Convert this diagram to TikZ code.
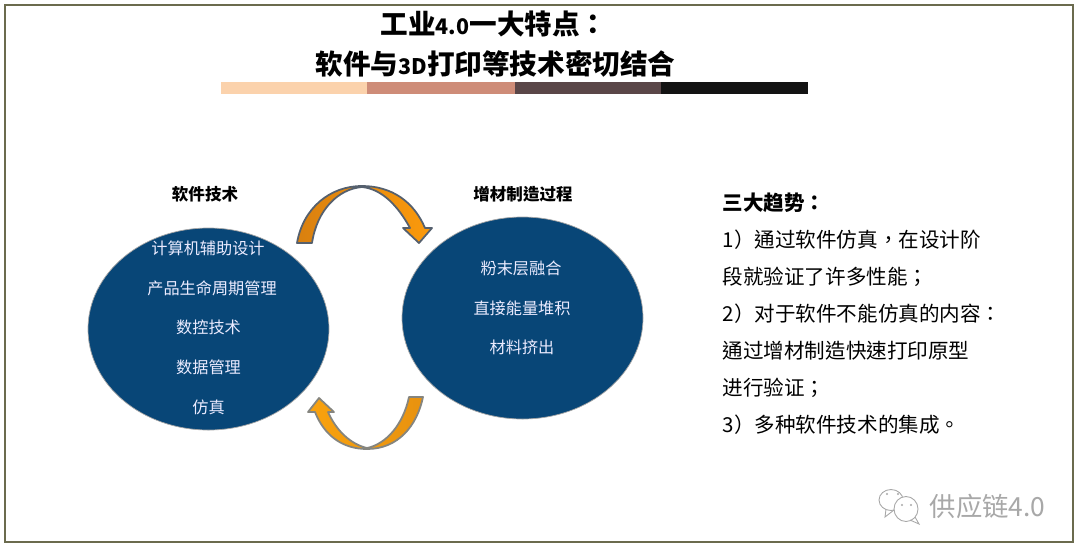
\documentclass[tikz,border=0pt]{standalone}
\usepackage{fontspec}
\setmainfont{Noto Sans CJK TC}
\usepackage{tikz}
\usetikzlibrary{shapes.geometric}

\definecolor{framecol}{HTML}{6B6B4E}
\definecolor{bluecol}{HTML}{084677}
\definecolor{bar1}{HTML}{FBD2AC}
\definecolor{bar2}{HTML}{CE8C78}
\definecolor{bar3}{HTML}{5A4648}
\definecolor{bar4}{HTML}{131313}
\definecolor{orangeL}{HTML}{D9800F}
\definecolor{orangeR}{HTML}{FB9A0C}
\definecolor{orangeA}{HTML}{F9A20E}
\definecolor{orangeB}{HTML}{E8920F}
\definecolor{edgeT}{HTML}{55606E}
\definecolor{edgeB}{HTML}{85857F}
\definecolor{markcol}{HTML}{A8A8A8}

\tikzset{
	title/.style={font=\fontsize{7.85}{10}\selectfont\bfseries, inner sep=0pt},
	blob/.style={ellipse, draw=gray!70, very thin, fill=bluecol, minimum width=2.41cm, minimum height=2.02cm, inner sep=0pt},
	item/.style={font=\fontsize{4.6}{6}\selectfont, text=white!92!blue, inner sep=0pt},
	head/.style={font=\fontsize{4.7}{6}\selectfont\bfseries, inner sep=0pt},
	trend/.style={font=\fontsize{5.85}{7}\selectfont, anchor=west, inner sep=0pt},
	barpart/.style={draw=none},
	turn/.style={line width=0.5pt, line join=round}
}

\begin{document}
\begin{tikzpicture}[x=1cm, y=-1cm]
	\useasboundingbox (0, 0) rectangle (10.8, 5.54);
	\fill [white] (0, 0) rectangle (10.8, 5.54);
	\draw [framecol, line width=0.3pt] (0.05, 0.05) rectangle (10.73, 5.42);

	% heading
	\node [title] (TitleA) at (4.94, 0.24) {工业{\fontsize{6.1}{8}\selectfont 4.0}一大特点：};
	\node [title] (TitleB) at (4.955, 0.64) {软件与{\fontsize{6.1}{8}\selectfont 3D}打印等技术密切结合};
	\fill [bar1, barpart] (2.21, 0.82) rectangle (3.67, 0.94);
	\fill [bar2, barpart] (3.67, 0.82) rectangle (5.15, 0.94);
	\fill [bar3, barpart] (5.15, 0.82) rectangle (6.61, 0.94);
	\fill [bar4, barpart] (6.61, 0.82) rectangle (8.08, 0.94);

	% two ellipses
	\node [head] (SoftHead) at (2.05, 1.94) {软件技术};
	\node [head] (AddHead) at (5.23, 1.94) {增材制造过程};
	\node [blob] (Soft) at (2.085, 3.29) {};
	\node [blob] (Add) at (5.225, 3.18) {};

	\node [item] (S1) at (2.08, 2.48) {计算机辅助设计};
	\node [item] (S2) at (2.12, 2.88) {产品生命周期管理};
	\node [item] (S3) at (2.085, 3.27) {数控技术};
	\node [item] (S4) at (2.085, 3.67) {数据管理};
	\node [item] (S5) at (2.085, 4.07) {仿真};

	\node [item] (A1) at (5.21, 2.68) {粉末层融合};
	\node [item] (A2) at (5.22, 3.08) {直接能量堆积};
	\node [item] (A3) at (5.22, 3.47) {材料挤出};

	% curved arrows
	\path [turn, draw=edgeT, left color=orangeL, right color=orangeR]
		(2.97, 2.43) .. controls (3.03, 2.08) and (3.3, 1.86) .. (3.62, 1.86)
		.. controls (3.92, 1.86) and (4.14, 2.02) .. (4.25, 2.28)
		-- (4.32, 2.28) -- (4.19, 2.43) -- (4.03, 2.28) -- (4.1, 2.28)
		.. controls (3.98, 2.06) and (3.82, 1.89) .. (3.62, 1.87)
		.. controls (3.38, 1.89) and (3.17, 2.1) .. (3.12, 2.43) -- cycle;
	\path [turn, draw=edgeB, left color=orangeA, right color=orangeB]
		(4.23, 3.97) .. controls (4.17, 4.26) and (3.98, 4.49) .. (3.67, 4.49)
		.. controls (3.42, 4.49) and (3.24, 4.35) .. (3.15, 4.12)
		-- (3.08, 4.12) -- (3.19, 3.98) -- (3.34, 4.12) -- (3.28, 4.12)
		.. controls (3.36, 4.3) and (3.5, 4.44) .. (3.67, 4.48)
		.. controls (3.86, 4.44) and (4.03, 4.25) .. (4.09, 3.97) -- cycle;

	% right-hand list
	\node [trend, font=\fontsize{5.85}{7}\selectfont\bfseries] (T0) at (7.22, 2.03) {三大趋势：};
	\node [trend] (T1) at (7.22, 2.40) {1）通过软件仿真，在设计阶};
	\node [trend] (T2) at (7.22, 2.77) {段就验证了许多性能；};
	\node [trend] (T3) at (7.22, 3.14) {2）对于软件不能仿真的内容：};
	\node [trend] (T4) at (7.22, 3.51) {通过增材制造快速打印原型};
	\node [trend] (T5) at (7.22, 3.88) {进行验证；};
	\node [trend] (T6) at (7.22, 4.25) {3）多种软件技术的集成。};

	% watermark
	\draw [markcol, line width=0.25pt, fill=white] (8.91, 5.0) ellipse (0.12 and 0.105);
	\draw [markcol, line width=0.25pt] (8.86, 5.09) -- (8.85, 5.17) -- (8.94, 5.1);
	\draw [markcol, line width=0.25pt, fill=white] (9.06, 5.09) ellipse (0.12 and 0.125);
	\draw [markcol, line width=0.25pt] (9.1, 5.2) -- (9.19, 5.24) -- (9.15, 5.17);
	\fill [markcol] (8.87, 4.94) circle (0.012) (8.98, 4.94) circle (0.012) (9.02, 5.05) circle (0.012) (9.11, 5.05) circle (0.012);
	\node [font=\fontsize{7.5}{9}\selectfont, text=markcol, inner sep=0pt, anchor=west] (Mark) at (9.29, 5.06) {供应链4.0};
\end{tikzpicture}
\end{document}
